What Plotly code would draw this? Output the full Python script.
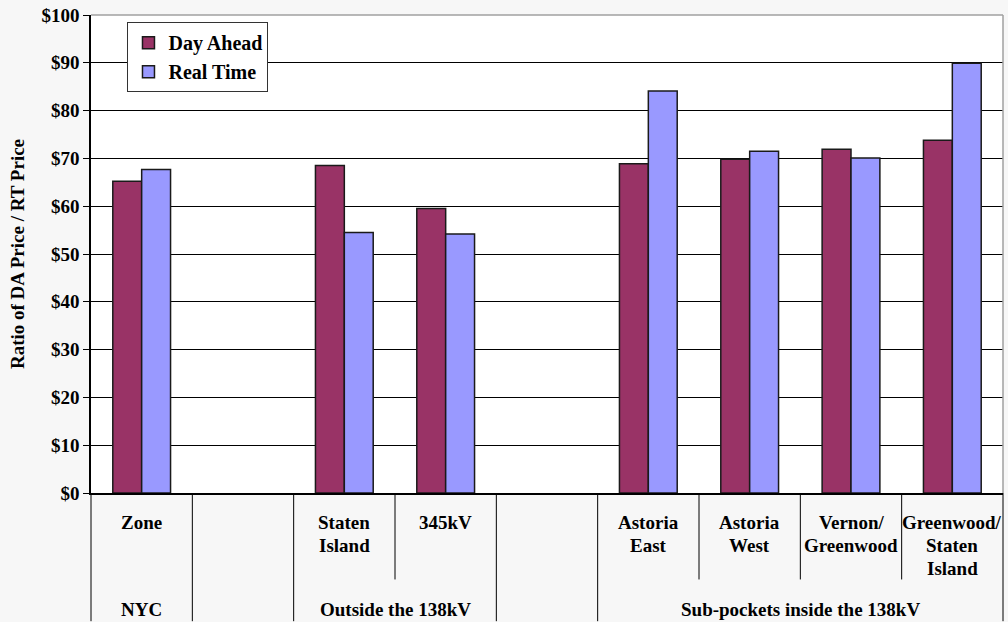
import plotly.graph_objects as go

# Price locations (blank slots act as spacers between location groups)
locations = ["Zone", "", "Staten<br>Island", "345kV", "",
             "Astoria<br>East", "Astoria<br>West", "Vernon/<br>Greenwood",
             "Greenwood/<br>Staten<br>Island"]
day_ahead = [65.2, None, 68.5, 59.5, None, 68.9, 69.8, 71.9, 73.8]
real_time = [67.7, None, 54.5, 54.2, None, 84.1, 71.5, 70.1, 89.9]

# Location groups: (label, first slot, last slot)
group_labels = ["NYC", "", "Outside the 138kV", "", "Sub-pockets inside the 138kV"]
group_first = [0, 1, 2, 4, 5]
group_last = [0, 1, 3, 4, 8]

y_ticks = list(range(0, 101, 10))
y_tick_text = [f"${v}" for v in y_ticks]

FONT = "Liberation Serif"
DA_COLOR = "#993366"
RT_COLOR = "#9999FF"
LINE_STEP = 23  # px between stacked label lines

n = len(locations)
xs = list(range(n))

fig = go.Figure()
fig.add_trace(go.Bar(x=xs, y=day_ahead, name="Day Ahead",
                     marker=dict(color=DA_COLOR, line=dict(color="#1a1a1a", width=1.5))))
fig.add_trace(go.Bar(x=xs, y=real_time, name="Real Time",
                     marker=dict(color=RT_COLOR, line=dict(color="#1a1a1a", width=1.5))))

annotations = []
shapes = []

label_font = dict(family=FONT, size=19, color="black", weight="bold")

# first-level category labels, one annotation per text line for tighter leading
for i, lab in enumerate(locations):
    for j, part in enumerate(lab.split("<br>") if lab else []):
        annotations.append(dict(x=i, y=0, xref="x", yref="paper", text=part,
                                showarrow=False, yanchor="top",
                                yshift=-17 - LINE_STEP * j, font=label_font))

# second-level group labels
for lab, a, b in zip(group_labels, group_first, group_last):
    if lab:
        annotations.append(dict(x=(a + b) / 2, y=0, xref="x", yref="paper", text=lab,
                                showarrow=False, yanchor="top", yshift=-104,
                                font=label_font))

# separators below the axis: full height at group edges, shorter inside groups
full_y = -129 / 481
short_y = -87 / 481
group_edges = set(group_first) | {group_last[-1] + 1}
for k in range(n + 1):
    yb = full_y if k in group_edges else short_y
    shapes.append(dict(type="line", xref="paper", yref="paper",
                       x0=k / n, x1=k / n, y0=0, y1=yb,
                       line=dict(color="black", width=1)))

# light frame on top and right of the plot area
shapes.append(dict(type="line", xref="paper", yref="paper", x0=0, x1=1, y0=1, y1=1,
                   line=dict(color="#a0a0a0", width=1.5)))
shapes.append(dict(type="line", xref="paper", yref="paper", x0=1, x1=1, y0=0, y1=1,
                   line=dict(color="#a0a0a0", width=1.5)))

fig.update_layout(
    width=1008, height=622,
    margin=dict(l=91, r=5, t=12, b=129),
    paper_bgcolor="#f7f7f7",
    plot_bgcolor="white",
    barmode="group",
    bargap=0.43,
    bargroupgap=0,
    font=dict(family=FONT, size=19, color="black"),
    showlegend=True,
    legend=dict(x=0.04, y=0.985, xanchor="left", yanchor="top",
                bgcolor="white", bordercolor="#333333", borderwidth=1,
                font=dict(family=FONT, size=20, color="black", weight="bold"),
                tracegroupgap=0, itemwidth=30),
    xaxis=dict(range=[-0.5, n - 0.5], showticklabels=False, showgrid=False,
               zeroline=False, showline=True, linecolor="black", linewidth=1.5,
               ticks=""),
    yaxis=dict(range=[0, 100], tickvals=y_ticks, ticktext=y_tick_text,
               showgrid=True, gridcolor="black", gridwidth=1,
               zeroline=False, showline=True, linecolor="black", linewidth=1.5,
               ticks="outside", ticklen=6, tickcolor="black",
               tickfont=dict(family=FONT, size=19, color="black", weight="bold"),
               title=dict(text="Ratio of DA Price / RT Price", standoff=12,
                          font=dict(family=FONT, size=19, color="black", weight="bold"))),
    annotations=annotations,
    shapes=shapes,
)

fig.write_html("out.html")
